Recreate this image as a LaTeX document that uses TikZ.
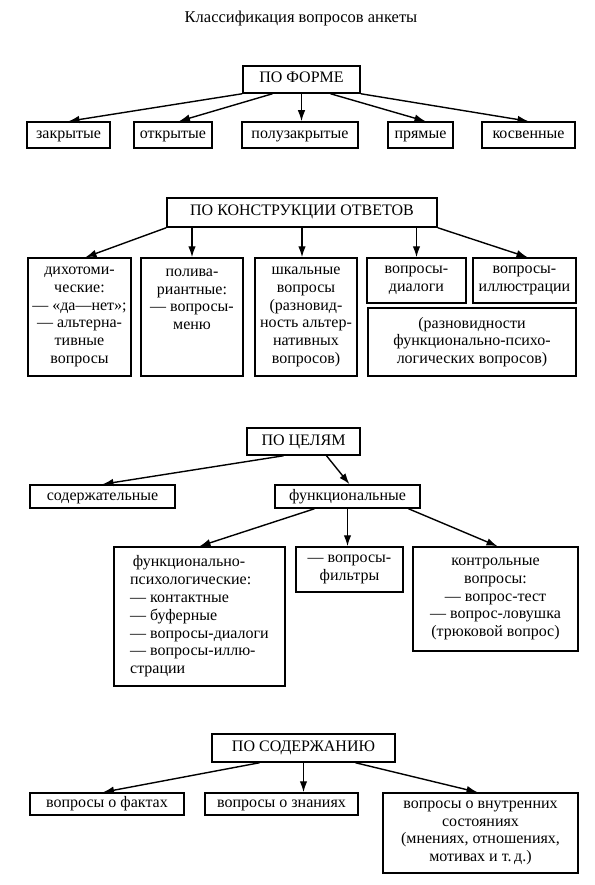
\documentclass[tikz,border=0pt]{standalone}
\usepackage{fontspec}
\setmainfont{Liberation Serif}
\usetikzlibrary{arrows.meta}
\tikzset{
  box/.style={draw, line width=1.5pt, inner sep=2pt, align=center,
    font=\fontsize{16}{17.8}\selectfont},
  single/.style={box, text height=10.5pt, text depth=3.5pt},
  arr/.style={line width=1.4pt, -{Latex[length=11pt,width=7.5pt]}}
}
\begin{document}
\begin{tikzpicture}[x=1pt,y=-1pt]
\useasboundingbox (0,0) rectangle (594,885);
\node[font=\fontsize{16.5}{18}\selectfont] (title) at (301,19) {Классификация вопросов анкеты};

% по форме
\node[single, minimum width=117pt, minimum height=27pt] (forma) at (301.5,79.5) {ПО ФОРМЕ};
\node[single, minimum width=83pt, minimum height=26pt] (zakr) at (68.5,135) {закрытые};
\node[single, minimum width=78pt, minimum height=26pt] (otkr) at (173,135) {открытые};
\node[single, minimum width=116pt, minimum height=26pt] (poluz) at (300,135) {полузакрытые};
\node[single, minimum width=65pt, minimum height=26pt] (pryam) at (420.5,135) {прямые};
\node[single, minimum width=93pt, minimum height=26pt] (kosv) at (528.5,135) {косвенные};

\draw[arr] (forma.south west) -- (zakr.north);
\draw[arr] ([xshift=-29pt]forma.south) -- ([xshift=6pt]otkr.north);
\draw[arr] (forma.south) -- (forma.south |- poluz.north);
\draw[arr] ([xshift=29pt]forma.south) -- ([xshift=5pt]pryam.north);
\draw[arr] (forma.south east) -- (kosv.north);

% по конструкции ответов
\node[single, minimum width=270pt, minimum height=29pt] (konstr) at (302,212.5) {ПО КОНСТРУКЦИИ ОТВЕТОВ};
\node[box, minimum width=103pt, minimum height=118pt] (dihot) at (79.5,317)
  {дихотоми-\\ческие:\\— «да—нет»;\\— альтерна-\\тивные\\вопросы};
\node[box, minimum width=102pt, minimum height=118pt] (poliv) at (192,317)
  {полива-\\риантные:\\— вопросы-\\меню\\~\\~};
\node[box, minimum width=102pt, minimum height=118pt] (shkal) at (306,317)
  {шкальные\\вопросы\\(разновид-\\ность альтер-\\нативных\\вопросов)};
\node[box, minimum width=99pt, minimum height=45pt] (dialog) at (416.5,280.5) {вопросы-\\диалоги};
\node[box, minimum width=103pt, minimum height=45pt] (illustr) at (524.5,280.5) {вопросы-\\иллюстрации};
\node[box, minimum width=208pt, minimum height=68pt] (raznov) at (472,342)
  {(разновидности\\функционально-психо-\\логических вопросов)};

\draw[arr] (konstr.south west) -- ([xshift=6pt]dihot.north);
\draw[arr] (poliv.north |- konstr.south) -- (poliv.north);
\draw[arr] (konstr.south) -- (konstr.south |- shkal.north);
\draw[arr] (dialog.north |- konstr.south) -- (dialog.north);
\draw[arr] (konstr.south east) -- ([xshift=3pt]illustr.north);

% по целям
\node[single, minimum width=113pt, minimum height=27pt] (celi) at (303.5,441.5) {ПО ЦЕЛЯМ};
\node[single, minimum width=145pt, minimum height=23pt] (soderzh) at (102.5,496.5) {содержательные};
\node[single, minimum width=145pt, minimum height=23pt] (funkc) at (347.5,496.5) {функциональные};
\node[box, minimum width=171pt, minimum height=139pt, align=left] (psych) at (199.5,616.5)
  {\,функционально-\\психологические:\\— контактные\\— буферные\\— вопросы-диалоги\\— вопросы-иллю-\\страции};
\node[box, minimum width=107pt, minimum height=45pt] (filtr) at (349.5,569.5) {— вопросы-\\фильтры};
\node[box, minimum width=165pt, minimum height=104pt] (kontr) at (495.5,599)
  {контрольные\\вопросы:\\— вопрос-тест\\— вопрос-ловушка\\(трюковой вопрос)};

\draw[arr] ([xshift=-20pt]celi.south) -- (soderzh.north);
\draw[arr] ([xshift=23pt]celi.south) -- ([xshift=2pt]funkc.north);
\draw[arr] ([xshift=-33pt]funkc.south) -- (psych.north);
\draw[arr] (funkc.south) -- (funkc.south |- filtr.north);
\draw[arr] ([xshift=61pt]funkc.south) -- ([xshift=2pt]kontr.north);

% по содержанию
\node[single, minimum width=183pt, minimum height=28pt] (soder) at (303.5,748) {ПО СОДЕРЖАНИЮ};
\node[single, minimum width=154pt, minimum height=22pt] (fakty) at (107,804) {вопросы о фактах};
\node[single, minimum width=153pt, minimum height=22pt] (znania) at (281.5,804) {вопросы о знаниях};
\node[box, minimum width=195pt, minimum height=80pt] (vnutr) at (480.5,833)
  {вопросы о внутренних\\состояниях\\(мнениях, отношениях,\\мотивах и т.\,д.)};

\draw[arr] ([xshift=-44pt]soder.south) -- ([xshift=-4pt]fakty.north);
\draw[arr] (soder.south) -- (soder.south |- znania.north);
\draw[arr] ([xshift=52pt]soder.south) -- ([xshift=-3pt]vnutr.north);
\end{tikzpicture}
\end{document}
